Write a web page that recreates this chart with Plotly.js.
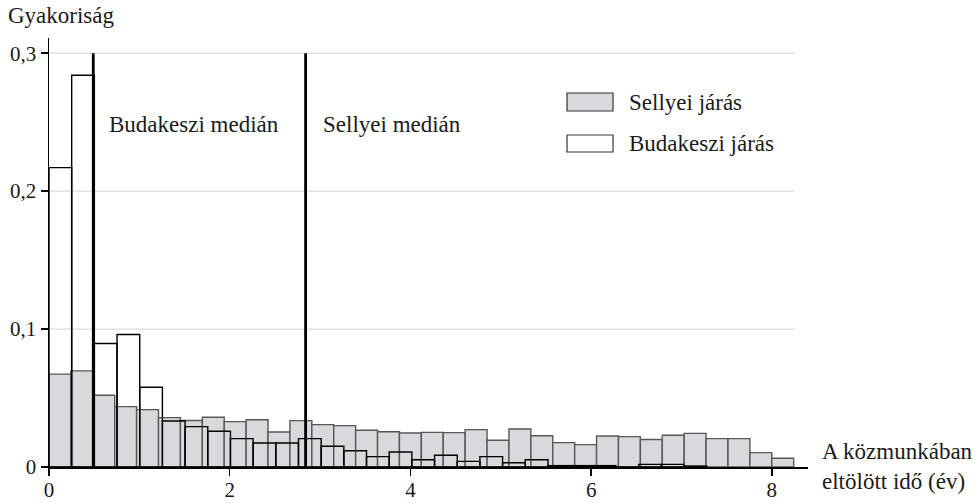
<!DOCTYPE html>
<html>
<head>
<meta charset="utf-8">
<script src="https://cdn.plot.ly/plotly-3.0.1.min.js"></script>
<style>html,body{margin:0;padding:0;background:#fff;}#chart{width:980px;height:503px;}</style>
</head>
<body>
<div id="chart"></div>
<script>
// Relative frequencies (histogram)
const sellyeiFreq = [0.0673, 0.0697, 0.0520, 0.0438, 0.0416, 0.0358, 0.0337, 0.0361, 0.0329, 0.0343,
  0.0254, 0.0336, 0.0307, 0.0300, 0.0266, 0.0256, 0.0247, 0.0251, 0.0249, 0.0271,
  0.0194, 0.0276, 0.0227, 0.0177, 0.0162, 0.0225, 0.0220, 0.0199, 0.0230, 0.0244,
  0.0206, 0.0206, 0.0104, 0.0063];
const budakesziFreq = [0.2170, 0.2840, 0.0895, 0.0961, 0.0578, 0.0334, 0.0293, 0.0259, 0.0206, 0.0174,
  0.0174, 0.0206, 0.0150, 0.0118, 0.0075, 0.0109, 0.0053, 0.0085, 0.0041, 0.0075,
  0.0031, 0.0053, 0.0010, 0.0010, 0.0010, 0.0000, 0.0019, 0.0019, 0.0007];
const sellyeiBinWidth = 0.2424;
const budakesziBinWidth = 0.2510;
const budakesziMedian = 0.49;
const sellyeiMedian = 2.84;
const xTickVals = [0, 2, 4, 6, 8];
const yTickVals = [0, 0.1, 0.2, 0.3];
const yTickText = ['0', '0,1', '0,2', '0,3'];
const seriesNames = ['Sellyei járás', 'Budakeszi járás'];
const medianLabels = ['Budakeszi medián', 'Sellyei medián'];
const yTitle = 'Gyakoriság';
const xTitle = 'A közmunkában<br>eltölött idő (év)';

const FONT = 'Liberation Serif, Times New Roman, serif';
const TXT = '#1a1a1a';

function centers(n, w) { return Array.from({length: n}, (_, i) => (i + 0.5) * w); }

const traces = [
  {
    type: 'bar', name: seriesNames[0],
    x: centers(sellyeiFreq.length, sellyeiBinWidth), y: sellyeiFreq,
    width: sellyeiFreq.map(() => sellyeiBinWidth),
    marker: {color: '#d9d9db', line: {color: '#575757', width: 1.4}},
    showlegend: false, hoverinfo: 'x+y'
  },
  {
    type: 'bar', name: seriesNames[1],
    x: centers(budakesziFreq.length, budakesziBinWidth), y: budakesziFreq,
    width: budakesziFreq.map(() => budakesziBinWidth),
    marker: {color: 'rgba(255,255,255,0)', line: {color: '#000', width: 1.4}},
    showlegend: false, hoverinfo: 'x+y'
  }
];

const shapes = [];
yTickVals.slice(1).forEach(v => shapes.push({
  type: 'line', xref: 'x', yref: 'y', x0: 0, x1: 8.25, y0: v, y1: v,
  line: {color: '#dcdcdc', width: 1.2}, layer: 'below'
}));
[budakesziMedian, sellyeiMedian].forEach(m => shapes.push({
  type: 'line', xref: 'x', yref: 'y', x0: m, x1: m, y0: 0, y1: 0.3,
  line: {color: '#000', width: 2.8}, layer: 'above'
}));
// legend boxes
shapes.push({type: 'rect', xref: 'paper', yref: 'paper', x0: 0.6825, x1: 0.7431, y0: 0.8298, y1: 0.8718,
  fillcolor: '#d9d9db', line: {color: '#333', width: 1.2}});
shapes.push({type: 'rect', xref: 'paper', yref: 'paper', x0: 0.6825, x1: 0.7431, y0: 0.7343, y1: 0.7739,
  fillcolor: '#fff', line: {color: '#333', width: 1.2}});

const af = {family: FONT, size: 23, color: TXT};
const annotations = [
  {xref: 'paper', yref: 'paper', x: -0.0566, y: 1.0513, xanchor: 'left', yanchor: 'middle', text: yTitle, showarrow: false, font: af},
  {xref: 'paper', yref: 'paper', x: 1.0160, y: 0.002, xanchor: 'left', yanchor: 'middle', align: 'left', text: xTitle, showarrow: false, font: af},
  {xref: 'paper', yref: 'paper', x: 0.0764, y: 0.7995, xanchor: 'left', yanchor: 'middle', text: medianLabels[0], showarrow: false, font: af},
  {xref: 'paper', yref: 'paper', x: 0.3584, y: 0.7995, xanchor: 'left', yanchor: 'middle', text: medianLabels[1], showarrow: false, font: af},
  {xref: 'paper', yref: 'paper', x: 0.7615, y: 0.8508, xanchor: 'left', yanchor: 'middle', text: seriesNames[0], showarrow: false, font: af},
  {xref: 'paper', yref: 'paper', x: 0.7615, y: 0.7552, xanchor: 'left', yanchor: 'middle', text: seriesNames[1], showarrow: false, font: af}
];

const layout = {
  width: 980, height: 503,
  margin: {l: 49, r: 172, t: 38, b: 36, pad: 0},
  paper_bgcolor: '#fff', plot_bgcolor: '#fff',
  barmode: 'overlay',
  showlegend: false,
  font: {family: FONT, size: 21, color: TXT},
  xaxis: {
    range: [0, 8.4], tickvals: xTickVals, ticktext: xTickVals.map(String),
    showline: true, linecolor: '#000', linewidth: 1.5,
    ticks: 'outside', ticklen: 7, tickwidth: 1.5, tickcolor: '#000',
    ticklabelstandoff: -4,
    showgrid: false, zeroline: false,
    tickfont: {family: FONT, size: 21, color: TXT}
  },
  yaxis: {
    range: [0, 0.311], tickvals: yTickVals, ticktext: yTickText,
    showline: true, linecolor: '#000', linewidth: 1.5,
    ticks: 'outside', ticklen: 7, tickwidth: 1.5, tickcolor: '#000',
    showgrid: false, zeroline: false,
    tickfont: {family: FONT, size: 21, color: TXT}
  },
  shapes: shapes,
  annotations: annotations
};

Plotly.newPlot('chart', traces, layout, {displayModeBar: false, staticPlot: true});
</script>
</body>
</html>
